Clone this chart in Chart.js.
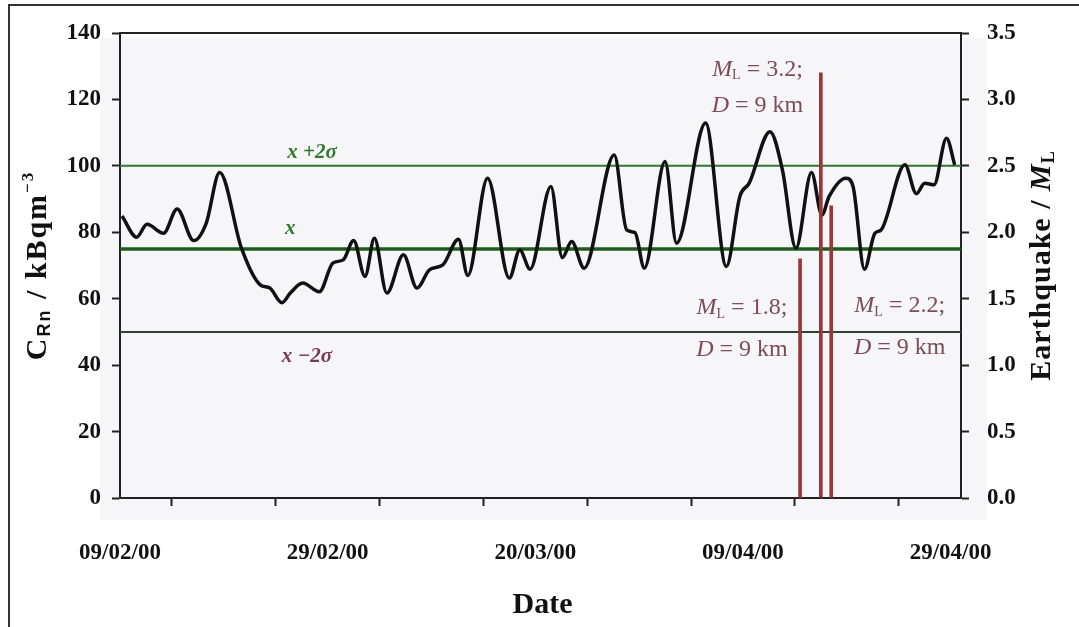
<!DOCTYPE html>
<html>
<head>
<meta charset="utf-8">
<script src="https://cdn.jsdelivr.net/npm/chart.js@4.4.1/dist/chart.umd.min.js"></script>
<style>
  html, body { margin: 0; padding: 0; background: #fff; }
  #wrap { position: relative; width: 1079px; height: 627px; }
</style>
</head>
<body>
<div id="wrap"><canvas id="chartRadon" width="1079" height="627"></canvas></div>
<script>
// Radon concentration vs. local earthquakes, 09/02/00 - 29/04/00
// x = days counted from 09/02/00

const radonDays = [
  0.2, 1.6, 2.6, 4.2, 5.5, 7.1, 8.3, 9.6, 11.7, 13.5,
  14.4, 15.6, 16.4, 17.6, 19.2, 20.5, 21.5, 22.5, 23.6, 24.5,
  25.7, 27.3, 28.6, 29.8, 31.1, 32.6, 33.5, 35.4, 37.5, 38.5,
  39.5, 41.5, 42.6, 43.5, 44.7, 47.6, 48.8, 49.6, 50.5, 52.5,
  53.6, 56.4, 58.4, 59.7, 60.6, 62.6, 63.8, 65.1, 66.6, 67.6,
  68.3, 69.9, 70.6, 71.7, 72.7, 73.3, 75.6, 76.7, 77.5, 78.4,
  79.6, 80.4
];
const radonValues = [
  84.9, 78.5, 82.4, 79.7, 87.0, 77.5, 82.7, 98.0, 75.2, 64.2,
  63.3, 58.8, 61.7, 64.7, 62.1, 70.7, 71.7, 77.5, 66.7, 78.2,
  61.7, 73.2, 63.2, 68.7, 70.2, 77.9, 67.0, 96.3, 66.2, 74.7,
  68.9, 93.8, 72.4, 77.2, 69.2, 103.3, 80.7, 79.9, 69.2, 101.3,
  76.7, 112.9, 69.7, 90.8, 94.8, 110.3, 98.8, 75.2, 98.0, 85.2,
  90.8, 96.3, 93.8, 68.9, 79.7, 80.7, 100.3, 91.6, 94.8, 94.3,
  108.3, 100.3
];

const meanValue = 75;
const upperValue = 100;
const lowerValue = 50;

const quakeDays = [65.5, 67.5, 68.5];
const quakeMagnitudes = [1.8, 3.2, 2.2];

const xMin = 0;
const xMax = 81;
const xTickDays = [0, 20, 40, 60, 80];
const xTickLabels = ['09/02/00', '29/02/00', '20/03/00', '09/04/00', '29/04/00'];

// text labels placed in data units (day, kBq m^-3)
const quakeNotes = [
  { mag: '3.2;', day: 61.4, top: 129, bottom: 118 },
  { mag: '1.8;', day: 59.9, top: 57.2, bottom: 44.6 },
  { mag: '2.2;', day: 75.1, top: 57.8, bottom: 45.2 }
];
const sigmaNotes = [
  { text: 'x +2σ', day: 18.5, value: 104.0, color: '#2f7a2c' },
  { text: 'x', day: 16.4, value: 81.0, color: '#2f7a2c' },
  { text: 'x −2σ', day: 18.0, value: 42.6, color: '#7a3a4e' }
];

const SERIF = '"Liberation Serif", "Times New Roman", serif';
const AXIS = '#222';

function drawRich(ctx, parts, cx, cy) {
  let w = 0;
  parts.forEach(p => { ctx.font = p.font; p.w = ctx.measureText(p.t).width; w += p.w; });
  let x = cx - w / 2;
  ctx.textAlign = 'left';
  ctx.textBaseline = 'middle';
  parts.forEach(p => {
    ctx.font = p.font;
    ctx.fillText(p.t, x, cy + (p.dy || 0));
    x += p.w;
  });
}

const decorPlugin = {
  id: 'decor',
  beforeDraw(chart) {
    const { ctx, chartArea: a } = chart;
    ctx.save();
    ctx.fillStyle = '#f6f5f8';
    ctx.fillRect(a.left - 20, a.top + 5, a.right - a.left + 46, a.bottom - a.top + 17);
    ctx.restore();
  },
  afterDraw(chart) {
    const { ctx, chartArea: a, scales } = chart;
    const sx = scales.x, sy = scales.y;
    ctx.save();

    // outer frame (left + top)
    ctx.strokeStyle = '#333';
    ctx.lineWidth = 2;
    ctx.beginPath();
    ctx.moveTo(9, 627); ctx.lineTo(9, 5); ctx.lineTo(1079, 5);
    ctx.stroke();

    // top border of plot
    ctx.strokeStyle = AXIS;
    ctx.beginPath();
    ctx.moveTo(a.left, a.top); ctx.lineTo(a.right, a.top);
    ctx.stroke();

    // sigma labels
    sigmaNotes.forEach(n => {
      ctx.fillStyle = n.color;
      drawRich(ctx, [{ t: n.text, font: 'italic bold 21px ' + SERIF }],
        sx.getPixelForValue(n.day), sy.getPixelForValue(n.value));
    });

    // earthquake notes
    ctx.fillStyle = '#7b4d57';
    quakeNotes.forEach(n => {
      const px = sx.getPixelForValue(n.day);
      drawRich(ctx, [
        { t: 'M', font: 'italic 24px ' + SERIF },
        { t: 'L', font: '14px ' + SERIF, dy: 6 },
        { t: ' = ' + n.mag, font: '24px ' + SERIF }
      ], px, sy.getPixelForValue(n.top));
      drawRich(ctx, [
        { t: 'D', font: 'italic 24px ' + SERIF },
        { t: ' = 9 km', font: '24px ' + SERIF }
      ], px, sy.getPixelForValue(n.bottom));
    });

    // axis titles
    ctx.fillStyle = '#111';
    const midY = (a.top + a.bottom) / 2;
    ctx.save();
    ctx.translate(38, midY);
    ctx.rotate(-Math.PI / 2);
    ctx.letterSpacing = '2px';
    drawRich(ctx, [
      { t: 'C', font: 'bold 30px ' + SERIF },
      { t: 'Rn', font: 'bold 18px "Liberation Sans", Arial, sans-serif', dy: 7 },
      { t: ' / kBqm', font: 'bold 30px ' + SERIF },
      { t: '−3', font: 'bold 17px ' + SERIF, dy: -9 }
    ], 0, 0);
    ctx.restore();

    ctx.save();
    ctx.translate(1042, midY);
    ctx.rotate(-Math.PI / 2);
    ctx.letterSpacing = '1px';
    drawRich(ctx, [
      { t: 'Earthquake / ', font: 'bold 30px ' + SERIF },
      { t: 'M', font: 'italic bold 30px ' + SERIF },
      { t: 'L', font: 'bold 18px ' + SERIF, dy: 7 }
    ], 0, 0);
    ctx.restore();

    drawRich(ctx, [{ t: 'Date', font: 'bold 30px ' + SERIF }], (a.left + a.right) / 2 + 2, 605);

    ctx.restore();
  }
};

function refLine(value, color, width) {
  return {
    type: 'line',
    data: [{ x: xMin, y: value }, { x: xMax, y: value }],
    borderColor: color,
    borderWidth: width,
    pointRadius: 0,
    yAxisID: 'y',
    order: 2
  };
}

const tickFont = { family: SERIF, size: 23, weight: 'bold' };

new Chart(document.getElementById('chartRadon'), {
  type: 'line',
  data: {
    datasets: [
      {
        type: 'bar',
        data: quakeDays.map((d, i) => ({ x: d, y: quakeMagnitudes[i] })),
        backgroundColor: '#963838',
        barThickness: 3,
        yAxisID: 'y2',
        order: 0
      },
      {
        type: 'line',
        data: radonDays.map((d, i) => ({ x: d, y: radonValues[i] })),
        borderColor: '#111',
        borderWidth: 3.5,
        pointRadius: 0,
        cubicInterpolationMode: 'monotone',
        yAxisID: 'y',
        order: 1
      },
      refLine(upperValue, '#2c7a2c', 2),
      refLine(meanValue, '#1d5c1d', 3.5),
      refLine(lowerValue, '#2c4436', 2)
    ]
  },
  options: {
    responsive: false,
    animation: false,
    layout: { padding: { top: 33, left: 0, right: 0, bottom: 0 } },
    plugins: { legend: { display: false }, tooltip: { enabled: false } },
    scales: {
      x: {
        type: 'linear',
        min: xMin,
        max: xMax,
        offset: false,
        afterBuildTicks: s => { s.ticks = [0, 10, 20, 30, 40, 50, 60, 70, 80].map(v => ({ value: v })); },
        afterFit: s => { s.height = 129; },
        ticks: {
          autoSkip: false,
          maxRotation: 0,
          padding: 33,
          color: '#111',
          font: tickFont,
          callback: v => {
            const k = xTickDays.indexOf(v);
            return k >= 0 ? xTickLabels[k] : '';
          }
        },
        grid: { drawOnChartArea: false, tickLength: 8, tickColor: AXIS, tickWidth: 2 },
        border: { color: AXIS, width: 2 }
      },
      y: {
        position: 'left',
        min: 0,
        max: 140,
        afterFit: s => { s.width = 120; },
        ticks: { stepSize: 20, padding: 11, color: '#111', font: tickFont },
        grid: { drawOnChartArea: false, tickLength: 8, tickColor: AXIS, tickWidth: 2 },
        border: { color: AXIS, width: 2 }
      },
      y2: {
        position: 'right',
        min: 0,
        max: 3.5,
        afterFit: s => { s.width = 118; },
        ticks: { stepSize: 0.5, padding: 18, color: '#111', font: tickFont, callback: v => v.toFixed(1) },
        grid: { drawOnChartArea: false, tickLength: 8, tickColor: AXIS, tickWidth: 2 },
        border: { color: AXIS, width: 2 }
      }
    }
  },
  plugins: [decorPlugin]
});
</script>
</body>
</html>
